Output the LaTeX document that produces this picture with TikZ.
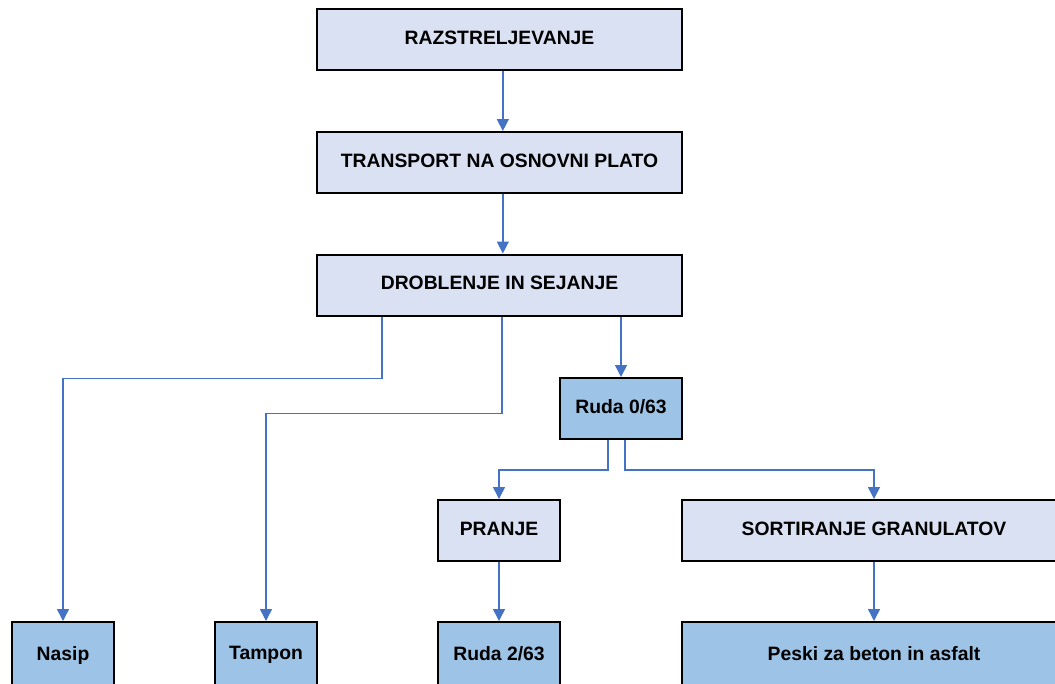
\documentclass[tikz,border=0pt]{standalone}
\usepackage{fontspec}
\setmainfont{Liberation Sans}
\usetikzlibrary{arrows.meta,positioning,calc}

\definecolor{boxlight}{HTML}{DAE1F3}
\definecolor{boxdark}{HTML}{9DC3E6}
\definecolor{arrblue}{HTML}{4472C4}

\begin{document}
\begin{tikzpicture}[
  x=0.75pt, y=-0.75pt,
  every node/.style={font=\bfseries\fontsize{14.5}{17}\selectfont},
  stage/.style={rectangle, draw=black, line width=1.5pt, fill=boxlight,
                minimum height=45.75pt, inner sep=2pt, text depth=3pt},
  prod/.style={stage, fill=boxdark},
  arr/.style={-{Triangle[length=9pt,width=9pt]}, draw=arrblue, line width=1.1pt},
]
\useasboundingbox (0,0) rectangle (1055,683);
% ---------------- main line ----------------
\node[stage, minimum width=273.75pt] (razs) at (499.5,39.5) {RAZSTRELJEVANJE};
\node[stage, minimum width=273.75pt] (trans) at (499.5,162.5) {TRANSPORT NA OSNOVNI PLATO};
\node[stage, minimum width=273.75pt] (drob) at (499.5,285) {DROBLENJE IN SEJANJE};
\node[prod, minimum width=91.5pt] (ruda) at (621,408.5) {Ruda 0/63};
% ---------------- second level ----------------
\node[stage, minimum width=91.5pt] (pranje) at (499,530.5) {PRANJE};
\node[stage, minimum width=288pt] (sort) at (874,530.5) {SORTIRANJE GRANULATOV};
% ---------------- products ----------------
\node[prod, minimum width=76.5pt, minimum height=49.5pt] (nasip) at (63,655) {Nasip};
\node[prod, minimum width=76.5pt, minimum height=49.5pt] (tampon) at (266,655) {Tampon};
\node[prod, minimum width=91.5pt, minimum height=49.5pt] (ruda2) at (499,655) {Ruda 2/63};
\node[prod, minimum width=288pt, minimum height=49.5pt] (peski) at (874,655) {Peski za beton in asfalt};
% ---------------- connectors ----------------
\draw[arr] ([xshift=2.5pt]razs.south) -- ([xshift=2.5pt]trans.north);
\draw[arr] ([xshift=2.5pt]trans.south) -- ([xshift=2.5pt]drob.north);
\draw[arr] ([xshift=-88pt]drob.south) -- ++(0,62) -| (nasip);
\draw[arr] ([xshift=2pt]drob.south) -- ++(0,97) -| (tampon);
\draw[arr] (drob.south -| ruda) -- (ruda);
\draw[arr] ([xshift=-9.75pt]ruda.south) -- ++(0,30) -| (pranje);
\draw[arr] ([xshift=3pt]ruda.south) -- ++(0,30) -| (sort);
\draw[arr] (pranje) -- (ruda2);
\draw[arr] (sort) -- (peski);
\end{tikzpicture}
\end{document}
